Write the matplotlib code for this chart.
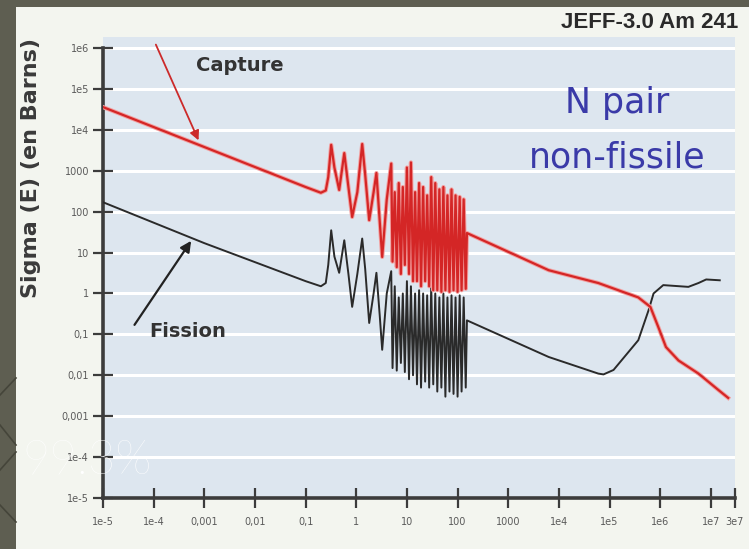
import matplotlib.pyplot as plt
from matplotlib.patches import Rectangle
from matplotlib.lines import Line2D
from matplotlib.ticker import NullLocator

# capture cross section (barns) vs neutron energy (eV)
energy_capture = [1e-5, 1e-3, 0.1, 0.2, 0.25, 0.28, 0.32, 0.37, 0.46, 0.58, 0.7, 0.83,
                  1.05, 1.31, 1.5, 1.8, 2.2, 2.5, 2.9, 3.25, 4.0, 4.9,
                  5.2, 5.75, 6.3, 6.9, 7.6, 8.3, 9.1, 10, 11, 12, 13.2, 14.5, 15.8, 17.4,
                  19, 20.9, 22.9, 25.1, 27.5, 30.2, 33.1, 36.3, 39.8, 43.7, 47.9, 52.5,
                  57.5, 63.1, 69.2, 75.9, 83.2, 91.2, 100, 110, 120, 132, 145,
                  153, 6300, 6e4, 3.7e5, 6.4e5, 9.2e5, 1.3e6, 2.3e6, 5.7e6, 1.4e7, 2.2e7]
sigma_capture = [3.6e4, 3.8e3, 400, 290, 330, 700, 4300, 1200, 340, 2700, 400, 74,
                 300, 4500, 800, 62, 300, 880, 60, 7.8, 200, 1500,
                 6, 300, 4.4, 500, 3, 400, 5, 1200, 3, 1600, 2, 300, 2, 500,
                 1.5, 400, 2, 250, 1.5, 700, 1.2, 500, 1.2, 350, 1.1, 400,
                 1.2, 250, 1.1, 350, 1.2, 250, 1.1, 230, 1.2, 200, 1.3,
                 30, 3.7, 1.8, 0.8, 0.47, 0.15, 0.049, 0.023, 0.011, 0.0044, 0.0028]

# fission cross section (barns)
energy_fission = [1e-5, 1e-3, 0.1, 0.2, 0.25, 0.28, 0.32, 0.37, 0.46, 0.58, 0.7, 0.83,
                  1.05, 1.31, 1.5, 1.8, 2.2, 2.5, 2.9, 3.25, 4.0, 4.9,
                  5.2, 5.75, 6.3, 6.9, 7.6, 8.3, 9.1, 10, 11, 12, 13.2, 14.5, 15.8, 17.4,
                  19, 20.9, 22.9, 25.1, 27.5, 30.2, 33.1, 36.3, 39.8, 43.7, 47.9, 52.5,
                  57.5, 63.1, 69.2, 75.9, 83.2, 91.2, 100, 110, 120, 132, 145,
                  153, 6300, 6e4, 7.6e4, 1.2e5, 3.7e5, 5.9e5, 7.4e5, 1.15e6, 3.6e6,
                  5.7e6, 8.1e6, 1.5e7]
sigma_fission = [170, 17, 2.0, 1.5, 1.8, 5, 35, 8, 3.2, 20, 3, 0.47,
                 3, 22, 4, 0.19, 1, 3.2, 0.3, 0.042, 1, 3.5,
                 0.015, 1.5, 0.013, 0.8, 0.02, 1.0, 0.012, 2, 0.008, 1.5, 0.01, 1.0, 0.006, 1.2,
                 0.005, 1.0, 0.007, 0.9, 0.005, 1.5, 0.006, 1.0, 0.004, 0.8, 0.005, 1.0,
                 0.003, 0.8, 0.004, 0.9, 0.0035, 0.8, 0.003, 0.9, 0.004, 0.8, 0.005,
                 0.22, 0.028, 0.011, 0.0105, 0.0135, 0.072, 0.39, 1.0, 1.6, 1.45,
                 1.8, 2.2, 2.1]

xtick_values = [1e-5, 1e-4, 1e-3, 1e-2, 0.1, 1, 10, 100, 1000, 1e4, 1e5, 1e6, 1e7, 3e7]
xtick_labels = ['1e-5', '1e-4', '0,001', '0,01', '0,1', '1', '10', '100', '1000',
                '1e4', '1e5', '1e6', '1e7', '3e7']
ytick_values = [1e6, 1e5, 1e4, 1000, 100, 10, 1, 0.1, 0.01, 0.001, 1e-4, 1e-5]
ytick_labels = ['1e6', '1e5', '1e4', '1000', '100', '10', '1', '0,1', '0,01',
                '0,001', '1e-4', '1e-5']

W, H = 749, 549
fig = plt.figure(figsize=(W / 100, H / 100), dpi=100)
fig.patch.set_facecolor('#5e5e51')
# white slide panel
fig.add_artist(Rectangle((16 / W, 0), 1, 1 - 7 / H, transform=fig.transFigure,
                         facecolor='#f3f5ef', edgecolor='none', zorder=-10))
# a few background strokes on the slide border
for (x0, y0, x1, y1) in [(0, 395, 16, 378), (0, 425, 16, 445), (0, 470, 16, 452), (0, 505, 16, 522)]:
    fig.add_artist(Line2D([x0 / W, x1 / W], [1 - y0 / H, 1 - y1 / H], transform=fig.transFigure,
                          color='#45453a', lw=1.2, zorder=-9))

ax = fig.add_axes([103 / W, 1 - 498 / H, (735 - 103) / W, (498 - 37) / H])
ax.set_xscale('log')
ax.set_yscale('log')
ax.set_xlim(1e-5, 3e7)
ax.set_ylim(1e-5, 1.86e6)
ax.set_facecolor('#dde6ef')

ax.plot(energy_fission, sigma_fission, color='#2a2a2a', lw=1.4, zorder=3)
ax.plot(energy_capture, sigma_capture, color='#f2a0a0', lw=3.0, zorder=4)
ax.plot(energy_capture, sigma_capture, color='#d42626', lw=1.6, zorder=5)

ax.set_xticks(xtick_values)
ax.set_xticklabels(xtick_labels)
ax.set_yticks(ytick_values)
ax.set_yticklabels(ytick_labels)
ax.xaxis.set_minor_locator(NullLocator())
ax.yaxis.set_minor_locator(NullLocator())
ax.tick_params(direction='inout', length=14, width=1.6, color='#3c3c3c',
               labelsize=7, labelcolor='#5a5a5a')
ax.tick_params(axis='x', pad=7)
ax.tick_params(axis='y', pad=3)
ax.grid(axis='y', color='white', lw=2.2)
ax.set_axisbelow(True)

for side in ['top', 'right']:
    ax.spines[side].set_visible(False)
for side in ['left', 'bottom']:
    ax.spines[side].set_color('#3c3c3c')
    ax.spines[side].set_linewidth(2.6)
ax.spines['left'].set_bounds(1e-5, 1e6)

ax.text(5e-3, 3.8e5, 'Capture', ha='center', va='center', fontsize=14,
        fontweight='bold', color='#333333')
ax.annotate('', xy=(8.1e-4, 4800), xytext=(1.05e-4, 1.4e6), annotation_clip=False,
            arrowprops=dict(arrowstyle='-|>', color='#cc2a2a', lw=1.3, mutation_scale=14))
ax.text(4.7e-4, 0.12, 'Fission', ha='center', va='center', fontsize=14,
        fontweight='bold', color='#333333')
ax.annotate('', xy=(5.9e-4, 22), xytext=(3.9e-5, 0.15),
            arrowprops=dict(arrowstyle='-|>', color='#222222', lw=1.6, mutation_scale=16))

fig.text(31 / W, 1 - 168 / H, 'Sigma (E) (en Barns)', rotation=90, ha='center', va='center',
         fontsize=16, fontweight='bold', color='#3a3a3a')
fig.text(738 / W, 1 - 22 / H, 'JEFF-3.0 Am 241', ha='right', va='center', fontsize=16,
         fontweight='bold', color='#2a2a2a', family=['Liberation Sans', 'DejaVu Sans'])
fig.text(617 / W, 1 - 113 / H, 'N pair', ha='center', va='baseline', fontsize=25,
         color='#3a3aa8')
fig.text(617 / W, 1 - 168 / H, 'non-fissile', ha='center', va='baseline', fontsize=25,
         color='#3a3aa8')
fig.text(22 / W, 1 - 473 / H, '99.3%', ha='left', va='baseline', fontsize=34,
         color='white', family='Lato', fontweight='light')

fig.savefig('out.png', dpi=100, facecolor=fig.get_facecolor())
